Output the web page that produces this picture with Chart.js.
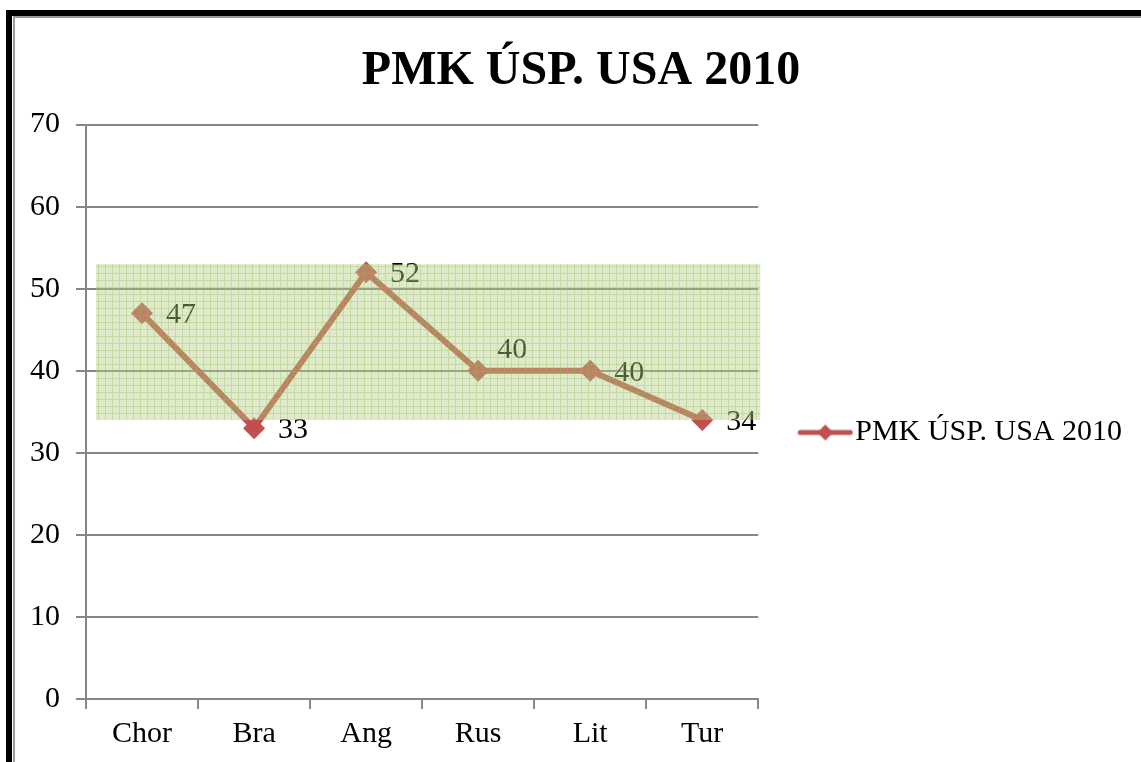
<!DOCTYPE html>
<html>
<head>
<meta charset="utf-8">
<script src="https://cdn.jsdelivr.net/npm/chart.js@4.4.1/dist/chart.umd.min.js"></script>
<style>
    html, body { margin: 0; padding: 0; background: #fff; overflow: hidden; }
    #wrap { position: relative; width: 1141px; height: 762px; overflow: hidden; }
    #chart { position: absolute; left: 0; top: 0; }
    .frame-black { position: absolute; left: 6px; top: 10px; width: 2000px; height: 2000px;
        border-left: 6px solid #000; border-top: 6px solid #000; box-sizing: border-box; }
    .frame-gray { position: absolute; left: 13px; top: 16px; width: 2000px; height: 2000px;
        border-left: 2px solid #9a9a9a; border-top: 2px solid #9a9a9a; box-sizing: border-box; }
</style>
</head>
<body>
<div id="wrap">
    <canvas id="chart" width="1141" height="762"></canvas>
    <div class="frame-black"></div>
    <div class="frame-gray"></div>
</div>
<script>
// ============================================
// DATA
// ============================================
const categories = ['Chor', 'Bra', 'Ang', 'Rus', 'Lit', 'Tur'];
const pmkValues = [47, 33, 52, 40, 40, 34];
const labelPlacement = ['right', 'right', 'right', 'above', 'right', 'right'];
const yTicks = [0, 10, 20, 30, 40, 50, 60, 70];
const seriesName = 'PMK ÚSP. USA 2010';
const chartTitle = 'PMK ÚSP. USA 2010';
// highlighted band (value range)
const bandLow = 34;
const bandHigh = 53;

const RED = '#c0504d';
const FONT = '"Liberation Serif", "Times New Roman", serif';

// Legend symbol: line with diamond
function makeLegendSymbol() {
    const c = document.createElement('canvas');
    c.width = 56;
    c.height = 20;
    const ctx = c.getContext('2d');
    ctx.strokeStyle = RED;
    ctx.lineWidth = 5;
    ctx.lineCap = 'round';
    ctx.beginPath();
    ctx.moveTo(3, 10);
    ctx.lineTo(53, 10);
    ctx.stroke();
    ctx.fillStyle = RED;
    ctx.beginPath();
    ctx.moveTo(28, 2);
    ctx.lineTo(36, 10);
    ctx.lineTo(28, 18);
    ctx.lineTo(20, 10);
    ctx.closePath();
    ctx.fill();
    return c;
}

// Pattern for the green band
function makeBandPattern(ctx) {
    const t = document.createElement('canvas');
    t.width = 7;
    t.height = 7;
    const p = t.getContext('2d');
    p.fillStyle = 'rgba(178, 204, 128, 0.42)';
    p.fillRect(0, 0, 7, 7);
    p.fillStyle = 'rgba(150, 182, 95, 0.35)';
    p.fillRect(0, 0, 7, 1);
    p.fillRect(0, 1, 1, 6);
    return ctx.createPattern(t, 'repeat');
}

// Value labels + band overlay
const overlayPlugin = {
    id: 'overlayPlugin',
    afterDatasetsDraw(chart) {
        const ctx = chart.ctx;
        const meta = chart.getDatasetMeta(0);
        ctx.save();
        ctx.font = '30px ' + FONT;
        ctx.fillStyle = '#000';
        ctx.textBaseline = 'middle';
        ctx.textAlign = 'left';
        meta.data.forEach((pt, i) => {
            let x = pt.x + 24;
            let y = pt.y + 2;
            if (labelPlacement[i] === 'above') {
                x = pt.x + 19;
                y = pt.y - 21;
            }
            ctx.fillText(String(pmkValues[i]), x, y);
        });

        // band drawn on top
        const area = chart.chartArea;
        const ys = chart.scales.y;
        const top = ys.getPixelForValue(bandHigh);
        const bottom = ys.getPixelForValue(bandLow);
        ctx.fillStyle = makeBandPattern(ctx);
        ctx.fillRect(area.left + 10, top, area.right - area.left - 8, bottom - top);
        ctx.restore();
    }
};

const legendSymbol = makeLegendSymbol();

new Chart(document.getElementById('chart'), {
    type: 'line',
    data: {
        labels: categories,
        datasets: [{
            label: seriesName,
            data: pmkValues,
            borderColor: RED,
            backgroundColor: RED,
            borderWidth: 6,
            pointStyle: 'rectRot',
            pointRadius: 11,
            pointBackgroundColor: RED,
            pointBorderWidth: 0,
            tension: 0
        }]
    },
    options: {
        responsive: false,
        animation: false,
        layout: {
            padding: { left: 30, right: 9, top: 0, bottom: 3 }
        },
        plugins: {
            title: {
                display: true,
                text: chartTitle,
                color: '#000',
                font: { family: FONT, size: 48, weight: 'bold' },
                padding: { top: 43, bottom: 24 }
            },
            legend: {
                position: 'right',
                maxWidth: 500,
                title: {
                    display: true,
                    text: ' ',
                    color: '#000',
                    padding: 35,
                    font: { family: FONT, size: 30 }
                },
                labels: {
                    usePointStyle: true,
                    pointStyleWidth: 30,
                    padding: 52,
                    color: '#000',
                    font: { family: FONT, size: 30 },
                    generateLabels: (chart) => [{
                        text: seriesName,
                        fontColor: '#000',
                        pointStyle: legendSymbol,
                        fillStyle: RED,
                        strokeStyle: RED,
                        lineWidth: 0,
                        hidden: false,
                        datasetIndex: 0
                    }]
                }
            },
            tooltip: { enabled: false }
        },
        scales: {
            x: {
                offset: true,
                grid: {
                    offset: true,
                    drawOnChartArea: false,
                    drawTicks: true,
                    tickLength: 10,
                    color: '#868686',
                    lineWidth: 2
                },
                border: { color: '#868686', width: 2 },
                ticks: {
                    color: '#000',
                    padding: 10,
                    font: { family: FONT, size: 30, lineHeight: 1.0 }
                }
            },
            y: {
                min: 0,
                max: 70,
                afterBuildTicks: (scale) => {
                    scale.ticks = yTicks.map(v => ({ value: v }));
                },
                afterFit: (scale) => {
                    scale.width = 56;
                },
                grid: {
                    color: '#868686',
                    lineWidth: 2,
                    tickLength: 10
                },
                border: { color: '#868686', width: 2 },
                ticks: {
                    color: '#000',
                    padding: 16,
                    font: { family: FONT, size: 30 }
                }
            }
        }
    },
    plugins: [overlayPlugin]
});
</script>
</body>
</html>
